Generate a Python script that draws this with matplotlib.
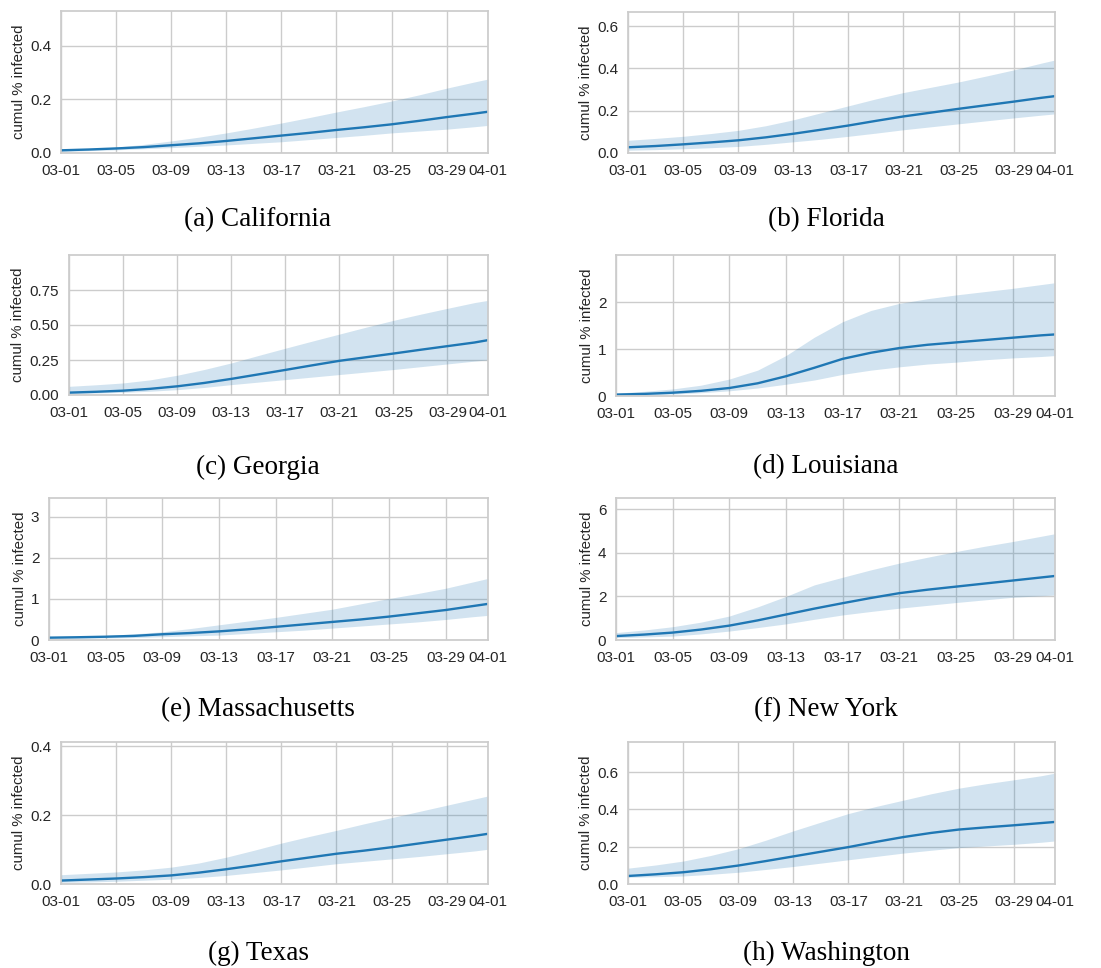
import numpy as np
import pandas as pd
import matplotlib
matplotlib.use("Agg")
import matplotlib.pyplot as plt
import matplotlib.dates as mdates
import seaborn as sns

sns.set_style("whitegrid")
plt.rcParams['font.family'] = ['Liberation Sans', 'DejaVu Sans']

# every second day from 03-01, plus 04-01
days = list(range(0, 31, 2)) + [31]
dates = pd.Timestamp("2020-03-01") + pd.to_timedelta(days, unit="D")

states = ["California", "Florida", "Georgia", "Louisiana",
          "Massachusetts", "New York", "Texas", "Washington"]
letters = ["a", "b", "c", "d", "e", "f", "g", "h"]

california_med = [.010, .013, .017, .022, .029, .036, .045, .055, .065, .075, .086, .096, .107, .120, .134, .147, .154]
california_hi = [.012, .016, .022, .032, .045, .059, .075, .093, .112, .132, .153, .173, .194, .217, .242, .265, .276]
california_lo = [.006, .009, .012, .016, .020, .025, .030, .036, .042, .050, .058, .066, .075, .082, .089, .098, .103]

florida_med = [.027, .033, .041, .050, .060, .074, .091, .110, .130, .152, .173, .191, .209, .226, .243, .261, .269]
florida_hi = [.060, .069, .079, .092, .107, .129, .157, .190, .223, .256, .286, .311, .336, .364, .393, .425, .440]
florida_lo = [.013, .016, .020, .025, .031, .041, .053, .065, .079, .094, .110, .124, .138, .152, .166, .179, .185]

georgia_med = [.017, .023, .031, .044, .062, .086, .115, .147, .179, .212, .244, .270, .296, .323, .349, .375, .392]
georgia_hi = [.062, .073, .086, .108, .141, .182, .229, .282, .334, .385, .435, .485, .533, .577, .619, .660, .676]
georgia_lo = [.010, .014, .019, .027, .038, .054, .074, .092, .110, .128, .146, .164, .182, .202, .222, .242, .251]

louisiana_med = [.03, .045, .07, .11, .17, .27, .42, .60, .79, .92, 1.02, 1.09, 1.14, 1.19, 1.24, 1.29, 1.31]
louisiana_hi = [.06, .10, .15, .23, .36, .55, .86, 1.25, 1.58, 1.82, 1.97, 2.07, 2.15, 2.22, 2.29, 2.37, 2.41]
louisiana_lo = [.015, .025, .04, .07, .11, .17, .25, .34, .46, .55, .62, .68, .72, .77, .81, .84, .86]

mass_med = [.057, .067, .08, .10, .14, .17, .21, .26, .32, .38, .44, .50, .57, .65, .73, .83, .88]
mass_hi = [.065, .085, .11, .15, .20, .28, .37, .46, .55, .65, .75, .88, 1.01, 1.13, 1.26, 1.42, 1.50]
mass_lo = [.04, .045, .05, .06, .08, .10, .12, .16, .20, .24, .29, .34, .39, .44, .50, .57, .60]

newyork_med = [.18, .25, .34, .48, .66, .90, 1.17, 1.44, 1.69, 1.93, 2.15, 2.31, 2.45, 2.59, 2.73, 2.87, 2.94]
newyork_hi = [.34, .46, .61, .82, 1.10, 1.52, 2.00, 2.53, 2.88, 3.22, 3.53, 3.80, 4.06, 4.30, 4.52, 4.76, 4.88]
newyork_lo = [.11, .14, .18, .28, .41, .57, .74, .95, 1.15, 1.31, 1.46, 1.59, 1.72, 1.84, 1.96, 2.03, 2.07]

texas_med = [.010, .013, .016, .020, .025, .033, .043, .054, .066, .077, .088, .097, .107, .118, .129, .140, .146]
texas_hi = [.027, .031, .035, .041, .049, .061, .078, .098, .119, .138, .156, .175, .193, .211, .229, .247, .256]
texas_lo = [.005, .006, .008, .011, .014, .019, .025, .033, .041, .050, .059, .066, .073, .080, .088, .096, .101]

wash_med = [.043, .052, .063, .079, .099, .123, .148, .173, .198, .226, .252, .274, .292, .304, .315, .327, .333]
wash_hi = [.085, .102, .123, .153, .189, .235, .285, .332, .378, .416, .450, .484, .514, .538, .559, .581, .595]
wash_lo = [.036, .039, .043, .052, .063, .078, .094, .112, .130, .148, .166, .181, .195, .204, .213, .224, .231]

medians = [california_med, florida_med, georgia_med, louisiana_med,
           mass_med, newyork_med, texas_med, wash_med]
uppers = [california_hi, florida_hi, georgia_hi, louisiana_hi,
          mass_hi, newyork_hi, texas_hi, wash_hi]
lowers = [california_lo, florida_lo, georgia_lo, louisiana_lo,
          mass_lo, newyork_lo, texas_lo, wash_lo]

y_tops = [0.53, 0.667, 1.0, 3.0, 3.46, 6.52, 0.413, 0.762]
y_ticks = [[0, 0.2, 0.4], [0, 0.2, 0.4, 0.6], [0, 0.25, 0.5, 0.75], [0, 1, 2],
           [0, 1, 2, 3], [0, 2, 4, 6], [0, 0.2, 0.4], [0, 0.2, 0.4, 0.6]]
y_fmt = ["%.1f", "%.1f", "%.2f", "%d", "%d", "%d", "%.1f", "%.1f"]

tick_days = [0, 4, 8, 12, 16, 20, 24, 28, 31]
tick_dates = pd.Timestamp("2020-03-01") + pd.to_timedelta(tick_days, unit="D")

# axes boxes in pixels: left, right, top, bottom
boxes = [(61, 488, 11, 153), (628, 1055, 12, 153),
         (69, 488, 255, 395), (616, 1055, 255, 396),
         (49, 488, 498, 640), (616, 1055, 498, 640),
         (61, 488, 742, 884), (628, 1055, 742, 884)]
caption_y = [220, 220, 467, 467, 710, 710, 953, 953]

W, H = 1101, 968
fig = plt.figure(figsize=(W / 100, H / 100), dpi=100)

for i in range(8):
    l, r, t, b = boxes[i]
    ax = fig.add_axes([l / W, 1 - b / H, (r - l) / W, (b - t) / H])
    ax.fill_between(dates, lowers[i], uppers[i], color="#1f77b4", alpha=0.2, linewidth=0)
    ax.plot(dates, medians[i], color="#1f77b4", lw=1.7)
    ax.set_xlim(dates[0], dates[-1])
    ax.set_ylim(0, y_tops[i])
    ax.set_xticks(tick_dates)
    ax.xaxis.set_major_formatter(mdates.DateFormatter("%m-%d"))
    ax.set_yticks(y_ticks[i])
    ax.set_yticklabels([y_fmt[i] % v for v in y_ticks[i]])
    ax.tick_params(labelsize=11, length=0, colors=".15")
    ax.tick_params(axis="x", pad=8)
    ax.tick_params(axis="y", pad=7)
    ax.set_ylabel("cumul % infected", fontsize=10.8, color=".15", labelpad=3)
    for s in ax.spines.values():
        s.set_color(".8")
        s.set_linewidth(1.25)
    ax.grid(color=".8", linewidth=1)
    cx = 258 if i % 2 == 0 else 826
    fig.text(cx / W, 1 - caption_y[i] / H, "(%s) %s" % (letters[i], states[i]),
             ha="center", va="center", fontsize=19.5, color="black",
             family="Liberation Serif")

fig.savefig("out.png", dpi=100)
